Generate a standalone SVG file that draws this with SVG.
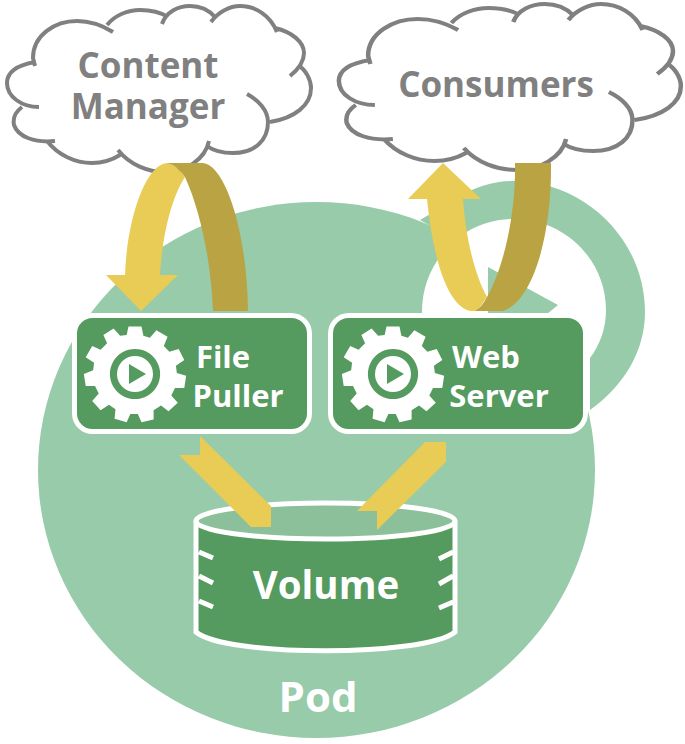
<svg xmlns="http://www.w3.org/2000/svg" width="685" height="744" viewBox="0 0 685 744">
<defs>
<path id="cloudFill" d="M35,62 C18,65 7,72 7,83 C7,97 22,107 39,107 L22,107 C14,113 13,120 14,125 C18,137 35,143 55,141 L47,141 C58,155 75,163 92,163 C102,163 112,160 120,155 L118,150 C130,165 148,172 165,172 C185,172 205,160 209,141 L207,146 C215,152 225,153 233,153 C255,153 268,140 268,122 L270,122 C295,118 311,105 311,88 C311,80 306,70 298,65 L304,53 C304,42 292,32 275,28 C270,15 255,6 240,6 C230,6 218,12 211,22 L215,17 C208,9 198,6 190,6 C178,6 166,12 162,24 L168,17 C160,12 150,10 140,10 C128,10 115,15 107,25 L113,32 C100,24 90,21 77,21 C55,21 33,35 33,58 Z"/>
<path id="cloudLine" d="M35,62 C18,65 7,72 7,83 C7,97 22,107 39,107 M22,107 C14,113 13,120 14,125 C18,137 35,143 55,141 M47,141 C58,155 75,163 92,163 C102,163 112,160 120,155 M118,150 C130,165 148,172 165,172 C185,172 205,160 209,141 M207,146 C215,152 225,153 233,153 C255,153 268,140 268,122 C268,110 258,100 247,94 M270,122 C295,118 311,105 311,88 C311,80 306,70 298,65 M290,76 C300,68 304,60 304,53 C304,42 292,32 275,28 M277,32 C270,15 255,6 240,6 C230,6 218,12 211,22 M215,17 C208,9 198,6 190,6 C178,6 166,12 162,24 M168,17 C160,12 150,10 140,10 C128,10 115,15 107,25 M113,32 C100,24 90,21 77,21 C55,21 33,35 33,58 L35,66"/>
<g id="gear">
<path fill="#fff" fill-rule="evenodd" transform="scale(0.93)" d="M-7,-51 L7,-51 L9,-41 L16,-39 L23,-47 L35,-40 L31,-30 L37,-24 L47,-27 L53,-15 L44,-9 L45,-1 L55,2 L53,15 L43,15 L39,23 L46,31 L36,40 L28,34 L20,39 L20,49 L7,52 L3,43 L-5,43 L-9,52 L-22,48 L-21,38 L-28,33 L-37,39 L-46,29 L-39,21 L-43,13 L-53,13 L-55,0 L-45,-4 L-44,-12 L-53,-18 L-46,-30 L-37,-26 L-30,-33 L-34,-42 L-23,-49 L-16,-41 L-9,-42 Z M0,-27 A27,27 0 1,0 0.01,-27 Z"/>
<circle r="18" fill="#fff"/>
<path d="M-6,-10 L11,0 L-6,10 Z" fill="#559a5e"/>
</g>
</defs>
<style>
.label{font-family:"Open Sans","Noto Sans",sans-serif;font-weight:700;text-anchor:middle}
.w{fill:#fff}
.g{fill:#808080}
.cl{fill:none;stroke:#808080;stroke-width:4;vector-effect:non-scaling-stroke}
.box{fill:#559a5e;stroke:#fff;stroke-width:5}
.y{fill:#e9cc55}
.d{fill:#b9a342}
.pod{fill:#97cba9}
</style>
<g id="pod">
<ellipse class="pod" cx="316.5" cy="470" rx="278.500" ry="268"/>
<path class="pod" d="M420,220 L468,192 C482,185 497,181 513,181 C585,181 645,240 645,312 C645,350 625,385 590,410 L590,316 Z"/>
<path fill="#fff" d="M422,316 L422,312 C422,260 463,219 514,219 C565,219 606,260 606,310 C606,328 600,345 590,358 L590,316 Z"/>
<path class="pod" d="M488,267 L558,305 L547,314 L488,314 Z"/>
<text class="label w" x="318" y="712" font-size="42">Pod</text>
</g>
<g id="content-manager">
<use href="#cloudFill" fill="#fff"/>
<use href="#cloudLine" class="cl"/>
<text class="label g" x="148" y="78" font-size="35">Content</text>
<text class="label g" x="148" y="119" font-size="35">Manager</text>
</g>
<g id="consumers">
<use href="#cloudFill" fill="#fff" transform="translate(331,-2) scale(1.125,1)"/>
<use href="#cloudLine" class="cl" transform="translate(331,-2) scale(1.125,1)"/>
<text class="label g" x="496" y="97" font-size="35">Consumers</text>
</g>
<g id="file-puller">
<rect class="box" x="74.500" y="315.500" width="235" height="116" rx="18"/>
<use href="#gear" x="135" y="374"/>
<text class="label w" x="223" y="368" font-size="31">File</text>
<text class="label w" x="238" y="407" font-size="31">Puller</text>
</g>
<g id="web-server">
<rect class="box" x="330.500" y="315.500" width="255" height="116" rx="18"/>
<use href="#gear" x="393" y="374"/>
<text class="label w" x="486" y="368" font-size="31">Web</text>
<text class="label w" x="499" y="407" font-size="31">Server</text>
</g>
<g id="volume">
<path fill="#559a5e" d="M196,520 L456,520 L456,632 C420,655 235,655 196,632 Z"/>
<ellipse cx="325.500" cy="521" rx="129.500" ry="18" fill="#8cc09b" stroke="#fff" stroke-width="5"/>
<path fill="none" stroke="#fff" stroke-width="5" d="M196,521 L196,632 C225,657 425,657 455,632 L455,521 M199,552 L213,558 M199,576 L213,583 M199,601 L213,607 M453,552 L439,559 M453,576 L439,584 M453,602 L439,608"/>
<text class="label w" x="326" y="599" font-size="38.500">Volume</text>
</g>
<g id="connectors">
<path class="y" d="M167,163 C145,165 127,220 125,275 L106,275 L141,311 L178,275 L160,275 C162,240 170,200 185,177 C180,170 175,165 167,163 Z"/>
<path class="d" d="M167,163 L203,163 C225,165 247,230 248,311 L213,311 C211,260 200,210 185,177 C180,170 175,165 167,163 Z"/>
<path class="y" d="M427,199 L408,199 L443,163 L481,199 L463,199 C466,240 475,275 487,297 L477,311 L470,311 C445,305 432,250 427,199 Z"/>
<path class="d" d="M515,163 L551,163 C552,230 535,300 503,311 L475,311 C480,308 484,303 487,297 C505,265 516,210 515,163 Z"/>
<path class="y" d="M200,436 L200,455 L179,455 L251,527 L271,527 L271,506 Z"/>
<path class="y" d="M425,442 L446,442 L446,462 L377,530 L377,511 L357,511 Z"/>
</g>
</svg>
